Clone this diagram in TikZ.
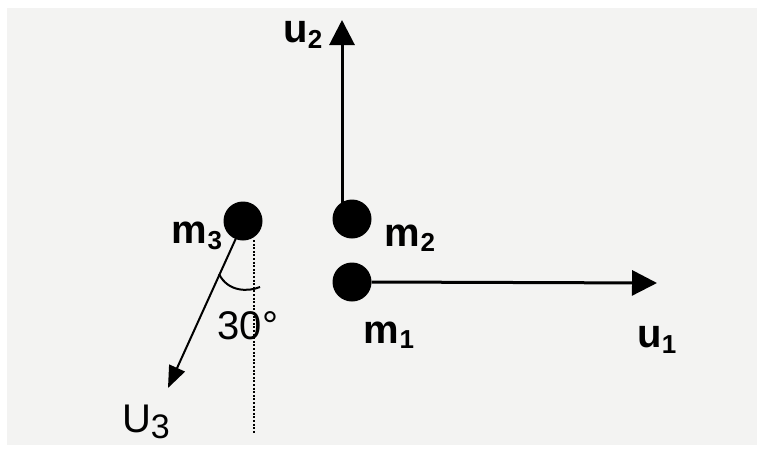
\documentclass[tikz,border=0pt]{standalone}
\usepackage{fontspec}
\setmainfont{Liberation Sans}
\usetikzlibrary{arrows.meta}
\definecolor{paper}{HTML}{F3F3F2}
\tikzset{
  mass/.style={circle,fill=black,inner sep=0pt,minimum size=39pt},
  lbl/.style={font=\fontsize{40}{40}\selectfont\bfseries,inner sep=0pt},
  hand/.style={font=\fontsize{40}{40}\selectfont,inner sep=0pt},
  vec/.style={line width=3pt,-{Triangle[length=25pt,width=25pt]}},
}
\newcommand{\sbs}[1]{\raisebox{-0.25ex}{\fontsize{26}{26}\selectfont #1}}
\begin{document}
\begin{tikzpicture}[x=1pt,y=-1pt]
\useasboundingbox (0,0) rectangle (765,450);
\fill[white] (0,0) rectangle (765,450);
\fill[paper] (7,8) rectangle (757,445);
% masses
\node[mass] (m2) at (352,219) {};
\node[mass] (m1) at (352,282) {};
\node[mass] (m3) at (243,221) {};
% arrow end points
\coordinate (u2tip) at (342,20);
\coordinate (u2base) at (342,205);
\coordinate (u1tip) at (657,283);
\coordinate (u3base) at (237,236);
\coordinate (u3tip) at (168,388);
\coordinate (dotA) at (254,240);
\coordinate (dotB) at (254,433);
% vectors
\draw[vec] (u2base) -- (u2tip);
\draw[vec] (m1.east) -- (u1tip);
\draw[line width=2pt,-{Triangle[length=22pt,width=17pt]}] (u3base) -- (u3tip);
% dotted vertical
\draw[line width=2.6pt,dash pattern=on 2pt off 1.6pt] (dotA) -- (dotB);
% angle arc
\draw[line width=2pt] (219,274) .. controls (228,292) and (248,292) .. (260,287);
% labels
\node[lbl] (lm3) at (197,236) {m\sbs{3}};
\node[lbl] (lm2) at (410,238) {m\sbs{2}};
\node[lbl] (lm1) at (389,335) {m\sbs{1}};
\node[lbl] (lu1) at (657,340) {u\sbs{1}};
\node[lbl] (lu2) at (303,35) {u\sbs{2}};
\node[hand] (ang) at (248,326) {30°};
\node[hand] (lu3) at (146,422) {U\raisebox{-0.3ex}{\fontsize{34}{34}\selectfont 3}};
\end{tikzpicture}
\end{document}
